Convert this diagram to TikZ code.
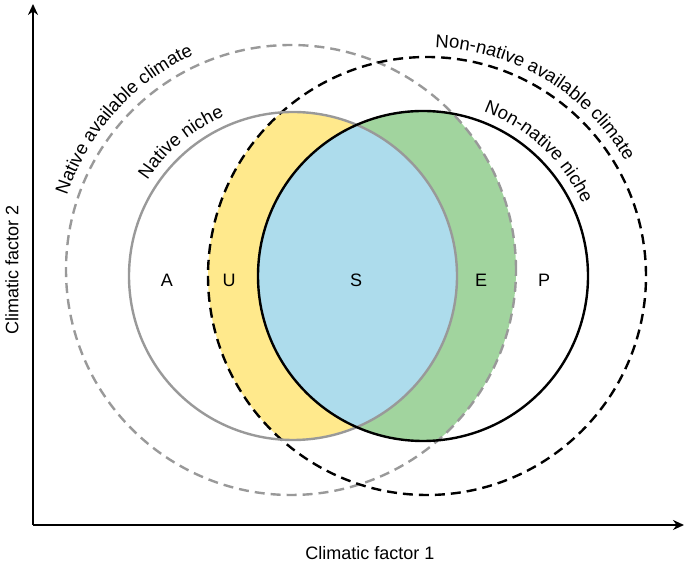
\documentclass[tikz,border=0pt]{standalone}
\usepackage{fontspec}
\setmainfont{Liberation Sans}
\usetikzlibrary{arrows.meta,decorations.text,calc}
\definecolor{uyellow}{HTML}{FFE98C}
\definecolor{egreen}{HTML}{A1D49E}
\definecolor{sblue}{HTML}{ADDCEC}
\definecolor{ngray}{HTML}{999999}
\tikzset{
  niche/.style={line width=2.4pt},
  avail/.style={line width=2.4pt, dash pattern=on 10pt off 6pt},
  lbl/.style={font=\fontsize{18}{21}\selectfont},
  curved/.style={decorate, decoration={text along path, text align=center,
     text={|\fontsize{18.5}{21}\selectfont|#1}}}
}
\begin{document}
\begin{tikzpicture}[x=1pt,y=1pt]
\useasboundingbox (0,0) rectangle (685,567);
% centres and radii
\coordinate (cN) at (293,291);  \def\rN{164}
\coordinate (cM) at (423,291);  \def\rM{165}
\coordinate (cNA) at (291,297); \def\rNA{225}
\coordinate (cMA) at (427,291); \def\rMA{219}
% regions
\begin{scope}
  \clip (cN) circle (\rN); \clip (cMA) circle (\rMA);
  \fill[uyellow] (0,0) rectangle (685,567);
\end{scope}
\begin{scope}
  \clip (cM) circle (\rM); \clip (cNA) circle (\rNA);
  \fill[egreen] (0,0) rectangle (685,567);
\end{scope}
\begin{scope}
  \clip (cN) circle (\rN);
  \fill[sblue] (cM) circle (\rM);
\end{scope}
% circles
\draw[avail, ngray] (cNA) circle (\rNA);
\draw[avail, black] (cMA) circle (\rMA);
\draw[niche, ngray] (cN) circle (\rN);
\draw[niche, black] (cM) circle (\rM);
% curved labels
\path[curved={Native available climate}] ($(cNA)+(172:236)$) arc (172:104:236);
\path[curved={Native niche}] ($(cN)+(155:174)$) arc (155:105:174);
\path[curved={Non-native available climate}] ($(cMA)+(98:229)$) arc (98:20:229);
\path[curved={Non-native niche}] ($(cM)+(80:175)$) arc (80:14:175);
% region letters
\node[lbl] (A) at (167,287) {A};
\node[lbl] (U) at (229,287) {U};
\node[lbl] (S) at (356,287) {S};
\node[lbl] (E) at (481,287) {E};
\node[lbl] (P) at (544,287) {P};
% axes
\coordinate (o) at (33,42);
\coordinate (ytip) at (33,563);
\coordinate (xtip) at (684,42);
\draw[line width=2.4pt, -{Stealth[length=11pt,width=10pt]}] (o) -- (ytip);
\draw[line width=2.4pt, -{Stealth[length=11pt,width=10pt]}] (o) -- (xtip);
\node[lbl] (xl) at (370,14) {Climatic factor 1};
\node[lbl, rotate=90] (yl) at (12,297) {Climatic factor 2};
\end{tikzpicture}
\end{document}
